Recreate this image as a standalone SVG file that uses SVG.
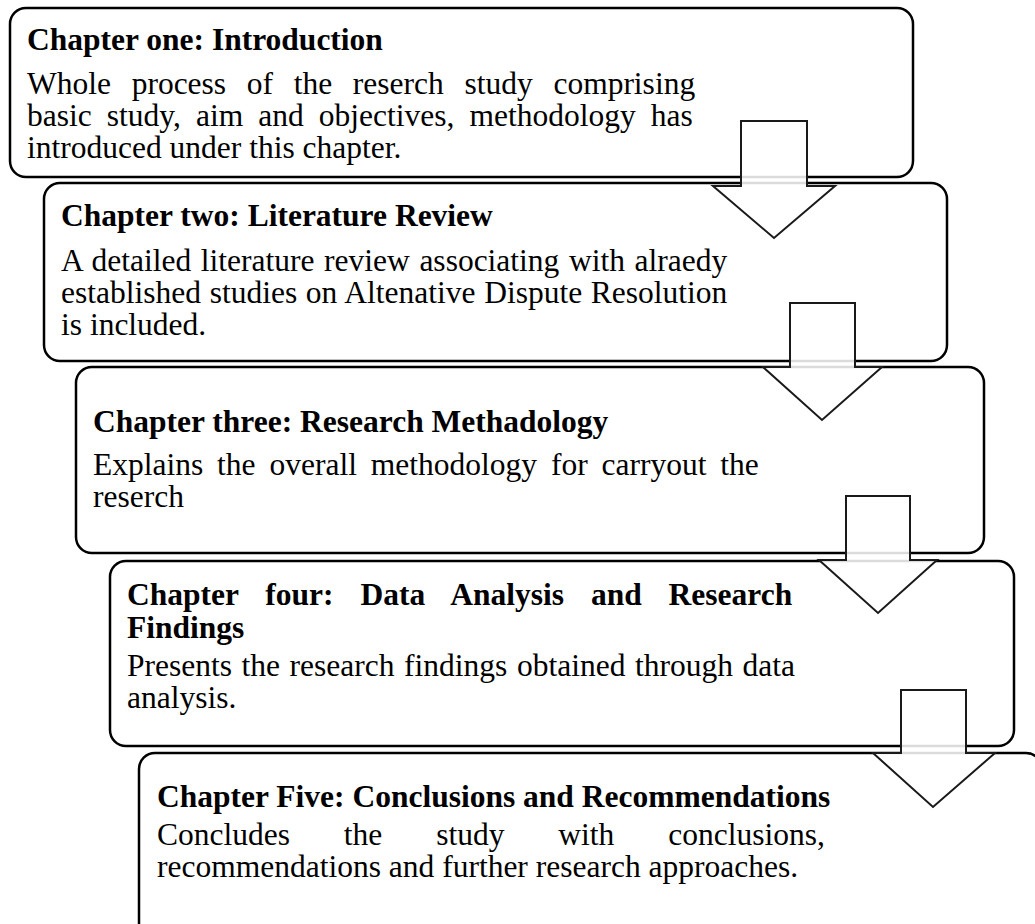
<svg xmlns="http://www.w3.org/2000/svg" width="1035" height="924" viewBox="0 0 1035 924">
<style>
.box{fill:#fff;stroke:#000;stroke-width:2.5}
.t{font-family:"Liberation Serif","Times New Roman",serif;font-size:31.5px;fill:#000}
.b{font-weight:bold}
.arrow{fill:#fff;fill-opacity:0.86;stroke:#1a1a1a;stroke-width:2}
</style>
<rect width="1035" height="924" fill="#fff"/>
<g id="node1">
<rect class="box" x="10" y="8" width="903" height="169" rx="16"/>
<text class="t b" x="27" y="50">Chapter one: Introduction</text>
<text class="t" x="27" y="94" word-spacing="12.8">Whole process of the reserch study comprising</text>
<text class="t" x="27" y="126" word-spacing="7.2">basic study, aim and objectives, methodology has</text>
<text class="t" x="27" y="158">introduced under this chapter.</text>
</g>
<g id="node2">
<rect class="box" x="44" y="183" width="903" height="178" rx="16"/>
<text class="t b" x="61" y="226">Chapter two: Literature Review</text>
<text class="t" x="61" y="271" word-spacing="1.7">A detailed literature review associating with alraedy</text>
<text class="t" x="61" y="303" word-spacing="0.8">established studies on Altenative Dispute Resolution</text>
<text class="t" x="61" y="335">is included.</text>
</g>
<g id="node3">
<rect class="box" x="76" y="367" width="908" height="186" rx="16"/>
<text class="t b" x="93" y="432">Chapter three: Research Methadology</text>
<text class="t" x="93" y="475" word-spacing="6">Explains the overall methodology for carryout the</text>
<text class="t" x="93" y="507">reserch</text>
</g>
<g id="node4">
<rect class="box" x="110" y="561" width="904" height="185" rx="16"/>
<text class="t b" x="127" y="605" word-spacing="19">Chapter four: Data Analysis and Research</text>
<text class="t b" x="127" y="638">Findings</text>
<text class="t" x="127" y="676" word-spacing="1.7">Presents the research findings obtained through data</text>
<text class="t" x="127" y="708">analysis.</text>
</g>
<g id="node5">
<rect class="box" x="139" y="753" width="903" height="200" rx="16"/>
<text class="t b" x="157" y="807">Chapter Five: Conclusions and Recommendations</text>
<text class="t" x="157" y="845" word-spacing="46">Concludes the study with conclusions,</text>
<text class="t" x="157" y="877">recommendations and further research approaches.</text>
</g>
<g id="connectors">
<polygon class="arrow" points="741,121 807,121 807,186 835,186 774,238 713,186 741,186"/>
<polygon class="arrow" points="790,303 855,303 855,367 882,367 822,420 763,367 790,367"/>
<polygon class="arrow" points="846,496 910,496 910,560 937,560 878,613 819,560 846,560"/>
<polygon class="arrow" points="901,690 966,690 966,753 995,753 933,807 873,753 901,753"/>
</g>
</svg>
